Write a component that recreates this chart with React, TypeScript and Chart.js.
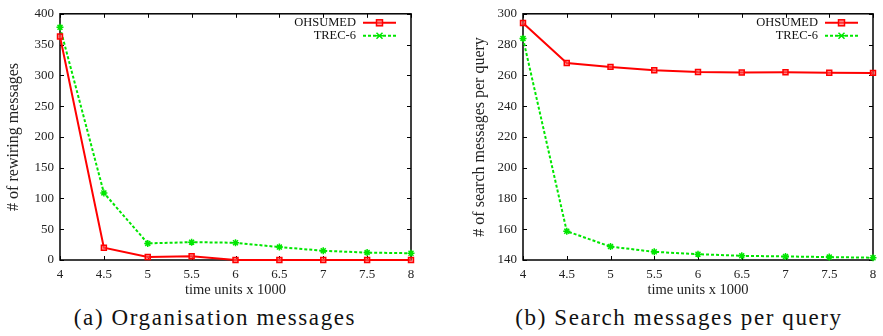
import React, { useEffect, useRef } from "react";
import { Chart, registerables } from "chart.js";

Chart.register(...registerables);

const timeUnits = [4, 4.5, 5, 5.5, 6, 6.5, 7, 7.5, 8];
const rewiringOhsumed = [363, 20, 5, 6, 0, 0, 0, 0, 0];
const rewiringTrec = [378, 109, 27, 29, 28, 21, 15, 12, 11];
const searchOhsumed = [294, 268, 265.5, 263.3, 262.2, 261.8, 262, 261.7, 261.6];
const searchTrec = [284, 158.7, 148.7, 145.3, 143.8, 142.7, 142.3, 141.9, 141.5];
const seriesNames = ["OHSUMED", "TREC-6"];

const RED = "#ff0000";
const GREEN = "#00e600";
const FONT = "'Liberation Serif', 'Times New Roman', serif";

const framePlugin = {
  id: "gnuframe",
  beforeDatasetsDraw(chart: any) {
    const { ctx, chartArea: a, scales } = chart;
    ctx.save();
    ctx.strokeStyle = "#000";
    ctx.lineWidth = 1;
    const tl = 4;
    ctx.beginPath();
    scales.x.ticks.forEach((t: any) => {
      const px = Math.round(scales.x.getPixelForValue(t.value)) + 0.5;
      ctx.moveTo(px, a.bottom);
      ctx.lineTo(px, a.bottom - tl);
      ctx.moveTo(px, a.top);
      ctx.lineTo(px, a.top + tl);
    });
    scales.y.ticks.forEach((t: any) => {
      const py = Math.round(scales.y.getPixelForValue(t.value)) + 0.5;
      ctx.moveTo(a.left, py);
      ctx.lineTo(a.left + tl, py);
      ctx.moveTo(a.right, py);
      ctx.lineTo(a.right - tl, py);
    });
    ctx.stroke();
    ctx.lineWidth = 1.5;
    ctx.strokeRect(a.left, a.top, a.right - a.left, a.bottom - a.top);
    ctx.restore();
  },
  afterDraw(chart: any) {
    const { ctx, chartArea: a } = chart;
    ctx.save();
    ctx.font = "12.5px " + FONT;
    ctx.textAlign = "right";
    ctx.textBaseline = "middle";
    chart.data.datasets.forEach((ds: any, i: number) => {
      const y = a.top + 9 + i * 13;
      const x2 = a.right - 15;
      const x1 = x2 - 33;
      ctx.fillStyle = "#111";
      ctx.fillText(ds.label, x1 - 7, y);
      ctx.strokeStyle = ds.borderColor;
      ctx.lineWidth = ds.borderWidth;
      ctx.setLineDash(ds.borderDash || []);
      ctx.beginPath();
      ctx.moveTo(x1, y);
      ctx.lineTo(x2, y);
      ctx.stroke();
      ctx.setLineDash([]);
      const mx = (x1 + x2) / 2;
      ctx.lineWidth = 1.5;
      if (ds.pointStyle === "rect") {
        ctx.fillStyle = ds.backgroundColor;
        ctx.fillRect(mx - 3, y - 3, 6, 6);
        ctx.strokeRect(mx - 3, y - 3, 6, 6);
      } else {
        ctx.beginPath();
        ctx.moveTo(mx - 3, y - 3);
        ctx.lineTo(mx + 3, y + 3);
        ctx.moveTo(mx + 3, y - 3);
        ctx.lineTo(mx - 3, y + 3);
        ctx.moveTo(mx - 3.5, y);
        ctx.lineTo(mx + 3.5, y);
        ctx.stroke();
      }
    });
    ctx.restore();
  },
};

type PanelProps = {
  left: number;
  width: number;
  a: number[];
  b: number[];
  yMin: number;
  yMax: number;
  yStep: number;
  yTitle: string;
  padLeft: number;
  axisWidth: number;
};

function Panel(p: PanelProps) {
  const ref = useRef<HTMLCanvasElement>(null);
  useEffect(() => {
    const mk = (vals: number[]) => timeUnits.map((x, i) => ({ x, y: vals[i] }));
    const chart = new Chart(ref.current!, {
      type: "line",
      data: {
        datasets: [
          {
            label: seriesNames[0],
            data: mk(p.a),
            borderColor: RED,
            backgroundColor: "rgba(255,90,90,0.6)",
            borderWidth: 2,
            pointStyle: "rect",
            pointRadius: 3.5,
            pointBorderWidth: 1.5,
            clip: false,
          },
          {
            label: seriesNames[1],
            data: mk(p.b),
            borderColor: GREEN,
            backgroundColor: GREEN,
            borderWidth: 2,
            borderDash: [3, 2],
            pointStyle: "star",
            pointRadius: 3.5,
            pointBorderWidth: 1.5,
            clip: false,
          },
        ],
      } as any,
      options: {
        responsive: false,
        animation: false,
        devicePixelRatio: 1,
        layout: { padding: { left: p.padLeft, right: 29, top: 9, bottom: 0 } },
        plugins: { legend: { display: false }, tooltip: { enabled: false } },
        scales: {
          x: {
            type: "linear",
            min: 4,
            max: 8,
            grid: { display: false, drawTicks: false },
            border: { display: false },
            ticks: {
              stepSize: 0.5,
              padding: 7,
              color: "#222",
              font: { family: FONT, size: 13 },
              maxRotation: 0,
              callback: (v: any) => String(v),
            },
            title: {
              display: true,
              text: "time units x 1000",
              color: "#222",
              font: { family: FONT, size: 14.5 },
              padding: { top: 2, bottom: 1 },
            },
            afterFit: (s: any) => {
              s.height = 40;
            },
          },
          y: {
            min: p.yMin,
            max: p.yMax,
            grid: { display: false, drawTicks: false },
            border: { display: false },
            ticks: {
              stepSize: p.yStep,
              padding: 6,
              color: "#222",
              font: { family: FONT, size: 13 },
            },
            title: {
              display: true,
              text: p.yTitle,
              color: "#222",
              font: { family: FONT, size: 16 },
              padding: { top: 2, bottom: 2 },
            },
            afterFit: (s: any) => {
              s.width = p.axisWidth;
            },
          },
        },
      } as any,
      plugins: [framePlugin],
    });
    return () => chart.destroy();
  }, []);
  return (
    <canvas
      ref={ref}
      width={p.width}
      height={300}
      style={{ position: "absolute", left: p.left, top: 0, width: p.width, height: 300 }}
    />
  );
}

const captionStyle: React.CSSProperties = {
  position: "absolute",
  top: 304,
  fontFamily: FONT,
  fontSize: 23,
  letterSpacing: "1.6px",
  color: "#111",
  textAlign: "center",
  whiteSpace: "nowrap",
  lineHeight: "28px",
};

export default function App() {
  return (
    <div style={{ position: "fixed", left: 0, top: 0, width: 883, height: 336, background: "#fff", overflow: "hidden" }}>
      <Panel left={0} width={440} a={rewiringOhsumed} b={rewiringTrec} yMin={0} yMax={400} yStep={50} yTitle="# of rewiring messages" padLeft={2} axisWidth={58} />
      <Panel left={440} width={462} a={searchOhsumed} b={searchTrec} yMin={140} yMax={300} yStep={20} yTitle="# of search messages per query" padLeft={28} axisWidth={55} />
      <div style={{ ...captionStyle, left: 15, width: 400 }}>(a) Organisation messages</div>
      <div style={{ ...captionStyle, left: 479, width: 400 }}>(b) Search messages per query</div>
    </div>
  );
}
